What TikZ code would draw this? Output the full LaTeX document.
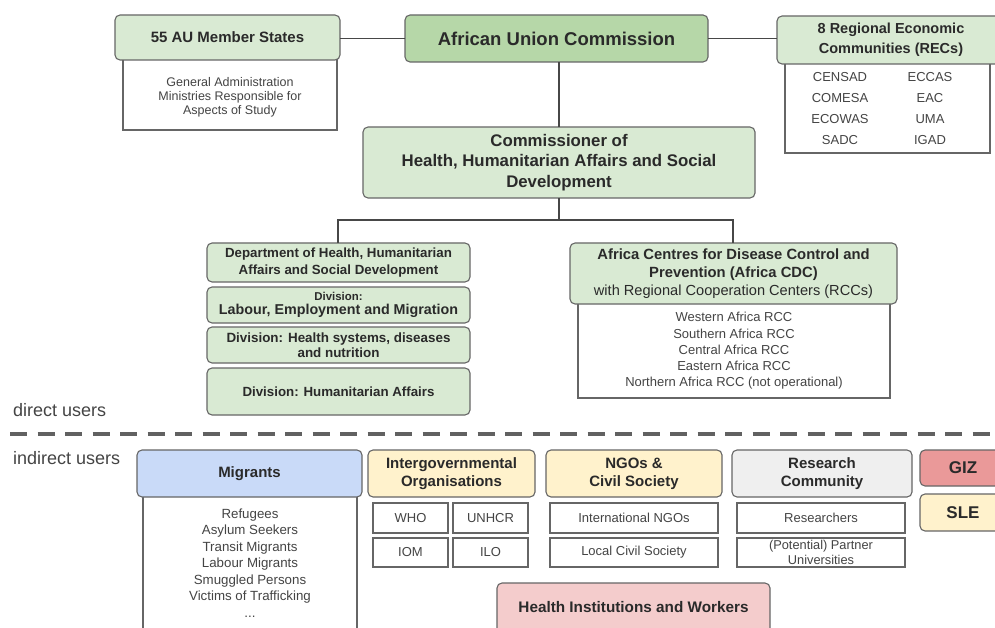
\documentclass[tikz,border=0pt]{standalone}
\usepackage{fontspec}
\setmainfont{Liberation Sans}
\definecolor{lgreen}{HTML}{D9EAD3}
\definecolor{mgreen}{HTML}{B6D7A8}
\definecolor{lblue}{HTML}{C9DAF8}
\definecolor{lyellow}{HTML}{FFF2CC}
\definecolor{lgray}{HTML}{EFEFEF}
\definecolor{lred}{HTML}{EA9999}
\definecolor{lpink}{HTML}{F4CCCC}
\definecolor{bordc}{HTML}{666666}
\definecolor{txtc}{HTML}{2A2A2A}
\definecolor{subtxt}{HTML}{444444}
\newcommand\mybox[7]{%
  \node[#2, minimum width={#5pt-#3pt}, minimum height={#6pt-#4pt}] (#1) at ({(#3+#5)/2},{(#4+#6)/2}) {#7};}
\tikzset{
  base/.style={draw=bordc, line width=1.1pt, inner sep=0pt, outer sep=0pt, align=center, text=txtc},
  head/.style={base, rounded corners=5pt, font=\bfseries\fontsize{15}{18}\selectfont},
  sub/.style={base, fill=white, text=subtxt, font=\fontsize{13}{16}\selectfont},
  subtext/.style={text=subtxt, align=center, inner sep=0pt},
  lbl/.style={anchor=west, text=subtxt, inner sep=0pt, font=\fontsize{18}{20}\selectfont},
  conn/.style={draw=black!72, line width=1.5pt},
}
\begin{document}
\begin{tikzpicture}[x=1pt,y=-1pt]
\useasboundingbox (0,0) rectangle (995,628);
% top row
\mybox{msw}{sub}{123}{55}{337}{130}{}
\node[subtext, font=\fontsize{12.5}{14}\selectfont] (mst) at (230,97) {General Administration\\Ministries Responsible for\\Aspects of Study};
\mybox{ms}{head, fill=lgreen}{115}{15}{340}{60}{55 AU Member States}
\mybox{auc}{head, fill=mgreen, font=\bfseries\fontsize{18.5}{20}\selectfont}{405}{15}{708}{62}{African Union Commission}
\mybox{recw}{sub}{785}{58}{990}{153}{}
\mybox{rec}{head, fill=lgreen, font=\bfseries\fontsize{14.5}{20}\selectfont}{777}{16}{1005}{64}{8 Regional Economic\\Communities (RECs)}
\node[subtext, font=\fontsize{13}{21}\selectfont] (reca) at (840,108.5) {CENSAD\\COMESA\\ECOWAS\\SADC};
\node[subtext, font=\fontsize{13}{21}\selectfont] (recb) at (930,108.5) {ECCAS\\EAC\\UMA\\IGAD};
\draw[conn] (auc.west) -- (auc.west -| ms.east);
\draw[conn] (auc.east) -- (auc.east -| rec.west);
% commissioner
\mybox{com}{head, fill=lgreen, font=\bfseries\fontsize{16.8}{20.5}\selectfont}{363}{127}{755}{198}{Commissioner of\\Health, Humanitarian Affairs and Social\\Development}
\draw[conn] (auc.south -| com.north) -- (com.north);
% second level
\mybox{dep}{head, fill=lgreen, font=\bfseries\fontsize{13.3}{16.5}\selectfont}{207}{243}{470}{282}{Department of Health, Humanitarian\\Affairs and Social Development}
\mybox{dlab}{head, fill=lgreen, font=\bfseries\fontsize{14.3}{14}\selectfont}{207}{287}{470}{323}{{\fontsize{11.4}{12}\selectfont Division:}\\Labour, Employment and Migration}
\mybox{dhs}{head, fill=lgreen, font=\bfseries\fontsize{13.4}{15.5}\selectfont}{207}{327}{470}{363}{Division: Health systems, diseases\\and nutrition}
\mybox{dha}{head, fill=lgreen, font=\bfseries\fontsize{13.3}{15}\selectfont}{207}{368}{470}{415}{Division: Humanitarian Affairs}
\mybox{cdcw}{sub}{578}{300}{890}{398}{}
\node[subtext, font=\fontsize{13}{16.2}\selectfont] (cdct) at (734,351) {Western Africa RCC\\Southern Africa RCC\\Central Africa RCC\\Eastern Africa RCC\\Northern Africa RCC (not operational)};
\mybox{cdc}{head, fill=lgreen, font=\bfseries\fontsize{14.8}{18}\selectfont}{570}{243}{897}{304}{Africa Centres for Disease Control and\\Prevention (Africa CDC)\\{\mdseries\fontsize{14.6}{16}\selectfont with Regional Cooperation Centers (RCCs)}}
\coordinate (jn) at (559,220);
\coordinate (jl) at (338,220);
\coordinate (jr) at (733,220);
\draw[conn] (com.south) -- (jn);
\draw[conn] (dep.north -| jl) -- (jl) -- (jr) -- (cdc.north -| jr);
% separator
\node[lbl] (du) at (13,410) {direct users};
\node[lbl] (iu) at (13,458) {indirect users};
\coordinate (sepa) at (10,434);
\coordinate (sepb) at (995,434);
\draw[draw=black!62, line width=3.2pt, dash pattern=on 17pt off 10.5pt] (sepa) -- (sepb);
% indirect users
\mybox{migw}{sub}{143}{493}{357}{640}{}
\node[subtext, font=\fontsize{13.3}{16.5}\selectfont] (migt) at (250,563) {Refugees\\Asylum Seekers\\Transit Migrants\\Labour Migrants\\Smuggled Persons\\Victims of Trafficking\\...};
\mybox{mig}{head, fill=lblue}{137}{450}{362}{497}{Migrants}
\mybox{igo}{head, fill=lyellow}{368}{450}{535}{497}{Intergovernmental\\Organisations}
\mybox{who}{sub}{373}{503}{448}{533}{WHO}
\mybox{unhcr}{sub}{453}{503}{528}{533}{UNHCR}
\mybox{iom}{sub}{373}{538}{448}{567}{IOM}
\mybox{ilo}{sub}{453}{538}{528}{567}{ILO}
\mybox{ngo}{head, fill=lyellow}{546}{450}{722}{497}{NGOs \&\\Civil Society}
\mybox{intngo}{sub}{550}{503}{718}{533}{International NGOs}
\mybox{lcs}{sub}{550}{538}{718}{567}{Local Civil Society}
\mybox{res}{head, fill=lgray}{732}{450}{912}{497}{Research\\Community}
\mybox{rsr}{sub}{737}{503}{905}{533}{Researchers}
\mybox{puni}{sub, font=\fontsize{12.8}{14.5}\selectfont}{737}{538}{905}{567}{(Potential) Partner\\Universities}
\mybox{giz}{head, fill=lred, font=\bfseries\fontsize{17}{18}\selectfont}{920}{450}{1006}{486}{GIZ}
\mybox{sle}{head, fill=lyellow, font=\bfseries\fontsize{17}{18}\selectfont}{920}{494}{1006}{531}{SLE}
\mybox{hiw}{head, fill=lpink}{497}{583}{770}{640}{}
\node[subtext, text=txtc, font=\bfseries\fontsize{15.3}{18}\selectfont] (hiwt) at (633.5,607) {Health Institutions and Workers};
\end{tikzpicture}
\end{document}
